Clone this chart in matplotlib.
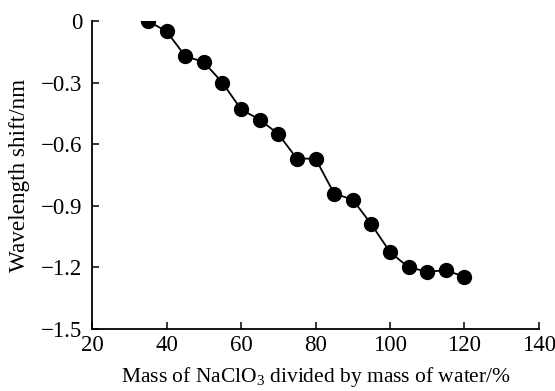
import matplotlib
matplotlib.use("Agg")
import matplotlib.pyplot as plt

plt.rcParams['font.family'] = ['Liberation Serif', 'DejaVu Serif']
plt.rcParams['mathtext.fontset'] = 'custom'
plt.rcParams['mathtext.rm'] = 'Liberation Serif'
plt.rcParams['mathtext.it'] = 'Liberation Serif:italic'

mass_ratio = [35, 40, 45, 50, 55, 60, 65, 70, 75, 80, 85, 90, 95, 100, 105, 110, 115, 120]
shift_nm = [0.0, -0.05, -0.17, -0.20, -0.30, -0.43, -0.48, -0.55, -0.67, -0.67,
            -0.84, -0.87, -0.99, -1.125, -1.20, -1.22, -1.215, -1.245]
x_ticks = [20, 40, 60, 80, 100, 120, 140]
y_ticks = [0, -0.3, -0.6, -0.9, -1.2, -1.5]
y_tick_labels = ['0', '\u22120.3', '\u22120.6', '\u22120.9', '\u22121.2', '\u22121.5']

fig = plt.figure(figsize=(5.55, 3.91), dpi=100)
ax = fig.add_axes([0.166, 0.1586, 0.805, 0.7874])
ax.plot(mass_ratio, shift_nm, color='black', lw=1.3, marker='o', markersize=10,
        markerfacecolor='black', markeredgecolor='black')
ax.set_xlim(20, 140)
ax.set_ylim(-1.5, 0)
ax.set_xticks(x_ticks)
ax.set_yticks(y_ticks)
ax.set_yticklabels(y_tick_labels)
ax.spines['top'].set_visible(False)
ax.spines['right'].set_visible(False)
for s in ['left', 'bottom']:
    ax.spines[s].set_linewidth(1.3)
ax.tick_params(direction='in', length=5, width=1.1, labelsize=16.5)
ax.tick_params(axis='y', pad=7)
ax.tick_params(axis='x', pad=4)
ax.set_xlabel('Mass of NaClO$_3$ divided by mass of water/%', fontsize=15.5, labelpad=7)
ax.set_ylabel('Wavelength shift/nm', fontsize=16.7, labelpad=8)
fig.savefig('out.png', dpi=100)
